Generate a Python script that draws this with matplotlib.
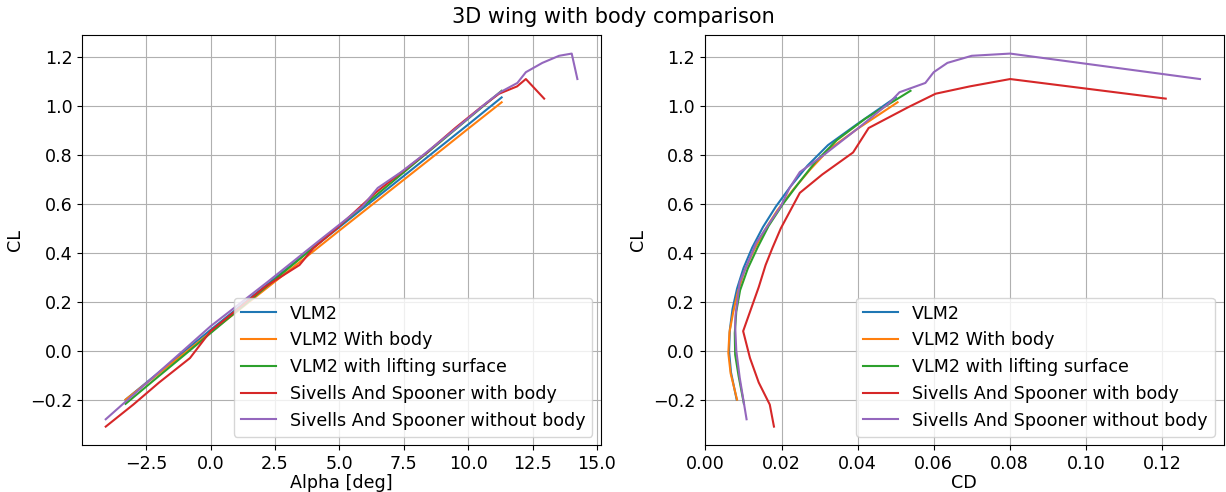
import numpy as np
import matplotlib
matplotlib.use("Agg")
import matplotlib.pyplot as plt

plt.rcParams['font.size'] = 12.6

# VLM2 (no body)
vlm_alpha = [-3.3, -2, -1, 0, 1, 2, 3, 4, 5, 6, 7, 8, 9, 10, 11.3]
vlm_cl = [-0.200, -0.088, -0.001, 0.085, 0.170, 0.254, 0.338, 0.422, 0.505,
          0.589, 0.672, 0.756, 0.840, 0.924, 1.035]
vlm_cd = [0.0082, 0.0067, 0.0062, 0.0064, 0.0071, 0.0083, 0.0100, 0.0123, 0.0151,
          0.0185, 0.0224, 0.0268, 0.0322, 0.0397, 0.0500]

# VLM2 with body
body_alpha = [-3.3, -2, -1, 0, 1, 2, 3, 4, 5, 6, 7, 8, 9, 10, 11.3]
body_cl = [-0.200, -0.092, -0.009, 0.075, 0.158, 0.241, 0.324, 0.407, 0.491,
           0.574, 0.657, 0.740, 0.823, 0.907, 1.015]
body_cd = [0.0083, 0.0066, 0.0060, 0.0063, 0.0073, 0.0085, 0.0102, 0.0126, 0.0155,
           0.0189, 0.0230, 0.0275, 0.0325, 0.0400, 0.0505]

# VLM2 with lifting surface
lift_alpha = [-3.3, -2, -1, 0, 1, 2, 3, 4, 5, 6, 7, 8, 9, 10, 11.3]
lift_cl = [-0.217, -0.103, -0.016, 0.072, 0.160, 0.247, 0.335, 0.422, 0.510,
           0.598, 0.685, 0.773, 0.860, 0.948, 1.062]
lift_cd = [0.0101, 0.0087, 0.0078, 0.0077, 0.0081, 0.0091, 0.0111, 0.0137, 0.0166,
           0.0203, 0.0245, 0.0290, 0.0345, 0.0420, 0.0539]

# Sivells and Spooner, with body
ss_body_alpha = [-4.07, -3.0, -2.0, -0.8, 0.0, 2.1, 3.45, 4.0, 4.9, 6.4, 7.3, 8.4,
                 9.5, 10.5, 11.2, 11.9, 12.24, 12.95]
ss_body_cl = [-0.31, -0.22, -0.13, -0.03, 0.08, 0.26, 0.35, 0.42, 0.50, 0.645, 0.72,
              0.81, 0.91, 0.995, 1.05, 1.08, 1.11, 1.03]
ss_body_cd = [0.0180, 0.0169, 0.0140, 0.0117, 0.0099, 0.0140, 0.0158, 0.0176, 0.0198,
              0.0248, 0.0307, 0.0388, 0.0429, 0.0533, 0.0605, 0.0695, 0.0801, 0.1210]

# Sivells and Spooner, without body
ss_alpha = [-4.07, -2.25, -1.07, 0.0, 0.55, 2.2, 4.1, 5.9, 6.49, 7.4, 8.2, 9.55, 10.7,
            11.24, 11.91, 12.24, 12.88, 13.53, 14.02, 14.24]
ss_cl = [-0.28, -0.11, 0.0, 0.10, 0.145, 0.28, 0.44, 0.59, 0.665, 0.73, 0.795, 0.91,
         1.012, 1.056, 1.094, 1.138, 1.176, 1.205, 1.214, 1.11]
ss_cd = [0.0108, 0.0090, 0.0081, 0.0078, 0.0079, 0.0090, 0.0133, 0.0198, 0.0221, 0.0248,
         0.0307, 0.0402, 0.0483, 0.0510, 0.0578, 0.0600, 0.0636, 0.0700, 0.0801, 0.1300]

labels = ["VLM2", "VLM2 With body", "VLM2 with lifting surface",
          "Sivells And Spooner with body", "Sivells And Spooner without body"]

fig, (ax1, ax2) = plt.subplots(1, 2, figsize=(12.26, 4.92), dpi=100)
fig.subplots_adjust(left=0.067, right=0.998, bottom=0.095, top=0.929, wspace=0.2)
fig.suptitle("3D wing with body comparison", fontsize=15, y=0.985)

ax1.plot(vlm_alpha, vlm_cl, label=labels[0])
ax1.plot(body_alpha, body_cl, label=labels[1])
ax1.plot(lift_alpha, lift_cl, label=labels[2])
ax1.plot(ss_body_alpha, ss_body_cl, label=labels[3])
ax1.plot(ss_alpha, ss_cl, label=labels[4])
ax1.set_xlabel("Alpha [deg]", labelpad=1)
ax1.set_ylabel("CL")
ax1.grid(True)
ax1.legend(loc="lower right")

ax2.plot(vlm_cd, vlm_cl, label=labels[0])
ax2.plot(body_cd, body_cl, label=labels[1])
ax2.plot(lift_cd, lift_cl, label=labels[2])
ax2.plot(ss_body_cd, ss_body_cl, label=labels[3])
ax2.plot(ss_cd, ss_cl, label=labels[4])
ax2.set_xlabel("CD", labelpad=1)
ax2.set_ylabel("CL")
ax2.grid(True)
ax2.legend(loc="lower right")

fig.savefig("out.png", dpi=100)
